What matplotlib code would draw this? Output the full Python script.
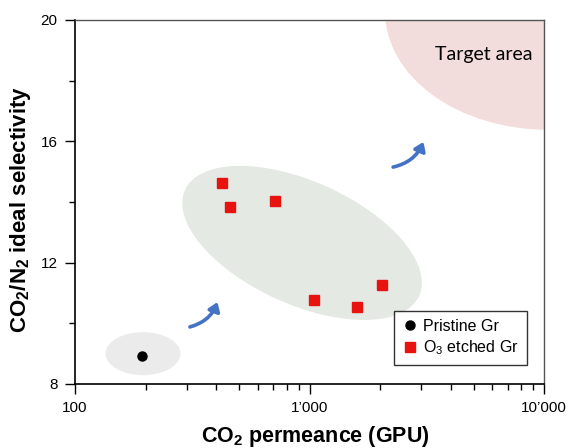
import matplotlib
matplotlib.use("Agg")
import matplotlib.pyplot as plt
from matplotlib.patches import Ellipse, FancyArrowPatch
from matplotlib.transforms import ScaledTranslation
from matplotlib.ticker import LogLocator, NullFormatter, MultipleLocator

plt.rcParams['font.family'] = ['Liberation Sans', 'DejaVu Sans']
plt.rcParams['mathtext.default'] = 'regular'

# Data
pristine_x = [194]
pristine_y = [8.93]
etched_x = [422, 458, 713, 1042, 1600, 2038]
etched_y = [14.63, 13.85, 14.04, 10.76, 10.54, 11.25]

x_ticks = [100, 1000, 10000]
x_tick_labels = ["100", "1\u2019000", "10\u2019000"]
y_ticks = [8, 12, 16, 20]

fig = plt.figure(figsize=(5.68, 4.48), dpi=100)
ax = fig.add_axes([0.132, 0.1429, 0.826, 0.8125])
ax.set_xscale('log')
ax.set_xlim(100, 10000)
ax.set_ylim(8, 20)


def add_ellipse(cx, cy, w_in, h_in, angle, color):
    tr = fig.dpi_scale_trans + ScaledTranslation(cx, cy, ax.transData)
    e = Ellipse((0, 0), w_in, h_in, angle=angle, transform=tr,
                facecolor=color, edgecolor='none', zorder=1)
    ax.add_patch(e)
    e.set_clip_path(ax.patch)


add_ellipse(10400, 20.27, 3.26, 2.36, 0, '#f2dcdc')
add_ellipse(929, 12.65, 2.57, 1.23, -24.3, '#e4e9e4')
add_ellipse(195, 9.0, 0.75, 0.43, 0, '#ebebeb')

ax.plot(pristine_x, pristine_y, 'o', color='black', markersize=6.5,
        linestyle='none', label='Pristine Gr', zorder=3)
ax.plot(etched_x, etched_y, 's', color='#e8120f', markersize=7,
        linestyle='none', label='O$_3$ etched Gr', zorder=3)

arrows = [((309, 9.88), (405, 10.70)), ((2270, 15.15), (3060, 15.98))]
for (p0, p1) in arrows:
    a = FancyArrowPatch(p0, p1, connectionstyle='arc3,rad=0.25',
                        arrowstyle='-|>,head_length=5,head_width=3.5',
                        color='#4472c4', lw=2.6, zorder=2,
                        shrinkA=0, shrinkB=0)
    ax.add_patch(a)

ax.text(0.975, 0.905, 'Target area', transform=ax.transAxes, ha='right',
        va='center', fontsize=14, family=['Lato', 'DejaVu Sans'], zorder=4)

ax.set_xticks(x_ticks)
ax.set_xticklabels(x_tick_labels)
ax.xaxis.set_minor_locator(LogLocator(base=10, subs=range(2, 10)))
ax.xaxis.set_minor_formatter(NullFormatter())
ax.set_yticks(y_ticks)
ax.yaxis.set_minor_locator(MultipleLocator(2))

ax.tick_params(which='major', direction='out', length=7.5, width=1,
               labelsize=11, colors='black')
ax.tick_params(axis='y', which='major', pad=5)
ax.tick_params(axis='x', which='major', pad=5)
ax.tick_params(which='minor', direction='out', length=4, width=1)

for s in ['left', 'bottom']:
    ax.spines[s].set_linewidth(1.2)
    ax.spines[s].set_color('black')
for s in ['top', 'right']:
    ax.spines[s].set_linewidth(1.0)
    ax.spines[s].set_color('#555555')

ax.set_xlabel('CO$_2$ permeance (GPU)', fontsize=15.5, fontweight='bold')
ax.xaxis.set_label_coords(0.512, -0.11)
ax.set_ylabel('CO$_2$/N$_2$ ideal selectivity', fontsize=16,
              fontweight='bold')
ax.yaxis.set_label_coords(-0.09, 0.48)

leg = ax.legend(loc='lower right', bbox_to_anchor=(0.98, 0.03), frameon=True,
                fancybox=False, edgecolor='black', fontsize=11.5,
                handletextpad=0.3, handlelength=1.0, borderpad=0.5,
                labelspacing=0.3)
leg.get_frame().set_linewidth(1.0)
leg.set_zorder(5)

fig.savefig('out.png', dpi=100)
